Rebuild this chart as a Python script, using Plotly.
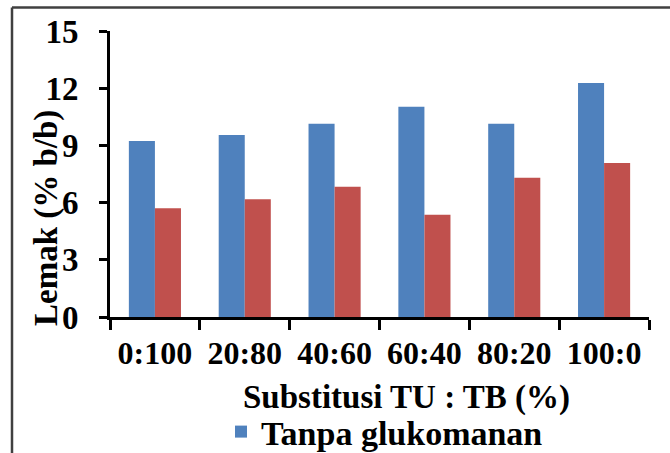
import plotly.graph_objects as go

categories = ["0:100", "20:80", "40:60", "60:40", "80:20", "100:0"]
tanpa = [9.23, 9.54, 10.14, 11.03, 10.14, 12.27]
dengan = [5.70, 6.17, 6.83, 5.36, 7.30, 8.08]
y_ticks = [0, 3, 6, 9, 12, 15]

W, H = 670, 453
L, R, T, B = 110, 21, 31, 136
pw, ph = W - L - R, H - T - B

def px(x):
    return (x - L) / pw

def py(y):
    return (H - B - y) / ph

FONT = "Liberation Serif"

fig = go.Figure()
fig.add_trace(go.Bar(x=categories, y=tanpa, name="Tanpa glukomanan",
                     marker=dict(color="#4F81BD", line=dict(width=0))))
fig.add_trace(go.Bar(x=categories, y=dengan, name="Dengan glukomanan",
                     marker=dict(color="#C0504D", line=dict(width=0)),
                     showlegend=False))

fig.update_layout(
    width=W, height=H,
    margin=dict(l=L, r=R, t=T, b=B, autoexpand=False),
    paper_bgcolor="white", plot_bgcolor="white",
    barmode="group", bargap=0.42, bargroupgap=0,
    font=dict(family=FONT, size=32, color="black", weight="bold"),
    showlegend=True,
    legend=dict(x=px(221), y=py(432), xanchor="left", yanchor="middle",
                font=dict(family=FONT, size=34, color="black", weight="bold"),
                bgcolor="rgba(0,0,0,0)", borderwidth=0),
    xaxis=dict(type="category", showgrid=False, showline=True, linecolor="black",
               linewidth=3, ticks="outside", tickson="boundaries", ticklen=10,
               tickwidth=3, tickcolor="black", tickangle=0, ticklabelstandoff=6,
               tickfont=dict(family=FONT, size=32, color="black", weight="bold")),
    yaxis=dict(range=[0, 15], tickvals=y_ticks, showgrid=False, zeroline=False,
               showline=True, linecolor="black", linewidth=3, ticks="outside",
               ticklen=8, tickwidth=3, tickcolor="black", ticklabelstandoff=14,
               tickfont=dict(family=FONT, size=33, color="black", weight="bold")),
)

fig.add_annotation(text="Lemak (% b/b)", xref="paper", yref="paper",
                   x=px(46), y=py(218), textangle=-90, showarrow=False,
                   xanchor="center", yanchor="middle",
                   font=dict(family=FONT, size=33, color="black", weight="bold"))
fig.add_annotation(text="Substitusi TU : TB (%)", xref="paper", yref="paper",
                   x=px(406), y=py(397), showarrow=False,
                   xanchor="center", yanchor="middle",
                   font=dict(family=FONT, size=33, color="black", weight="bold"))

# outer frame (cropped)
fig.add_shape(type="line", xref="paper", yref="paper",
              x0=px(12), y0=py(7.5), x1=px(672), y1=py(7.5),
              line=dict(color="#404040", width=2.5))
fig.add_shape(type="line", xref="paper", yref="paper",
              x0=px(12), y0=py(7.5), x1=px(12), y1=py(455),
              line=dict(color="#404040", width=2.5))

fig.write_html("out.html", config={"displayModeBar": False},
               post_script="document.body.style.margin='0';document.body.style.overflow='hidden';")
